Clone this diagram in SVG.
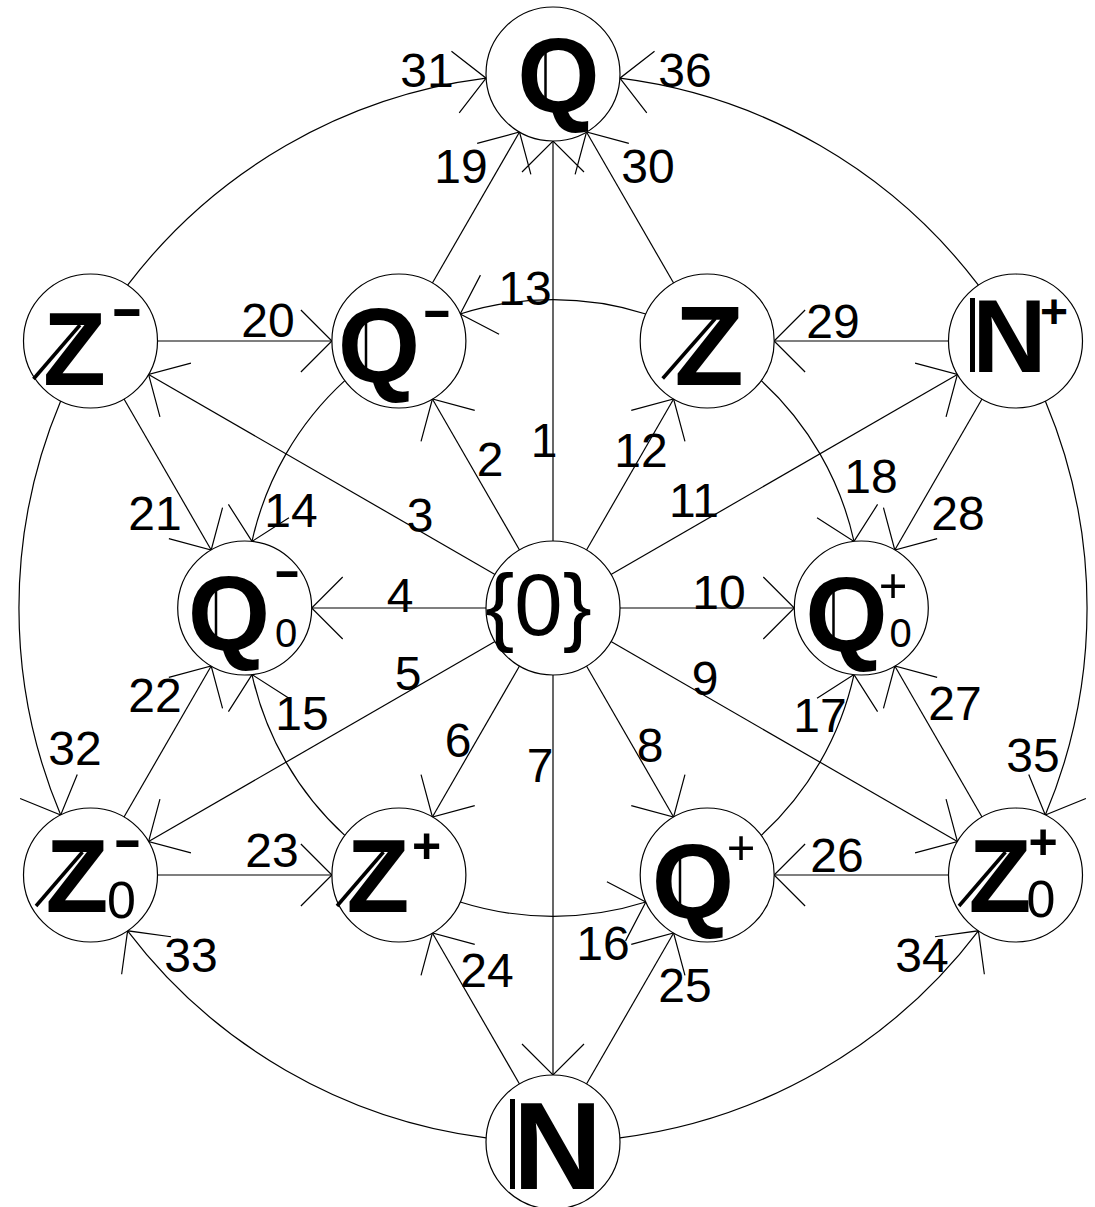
<svg xmlns="http://www.w3.org/2000/svg" width="1095" height="1207" viewBox="0 0 1095 1207">
<style>
.n{fill:#fff;stroke:#000;stroke-width:1.2}
.e{fill:none;stroke:#000;stroke-width:1.2;marker-end:url(#ah)}
.l{font-family:'Liberation Sans',Arial,sans-serif;font-size:48px;fill:#000;text-anchor:middle}
.r{font-family:'Liberation Sans',Arial,sans-serif;fill:#000;text-anchor:middle}
.b{font-family:'Liberation Sans',Arial,sans-serif;font-weight:bold;fill:#000;text-anchor:middle}
.q{stroke:#000;stroke-width:2.5}
.z{stroke:#000;stroke-width:3.5}
.nb{stroke:#000;stroke-width:5}
</style>
<defs>
<marker id="ah" markerUnits="userSpaceOnUse" viewBox="-50 -50 100 100" markerWidth="100" markerHeight="100" refX="0" refY="0" orient="auto" overflow="visible">
<path d="M-31,-31 L0,0 L-31,31" fill="none" stroke="#000" stroke-width="1.2"/>
</marker>
</defs>
<g id="connectors">
<path class="e" d="M553,541 L553,141"/>
<path class="e" d="M519.5,550 L432.4,399"/>
<path class="e" d="M495,574.5 L148.6,374.5"/>
<path class="e" d="M486,608 L311.7,608"/>
<path class="e" d="M495,641.5 L148.6,841.5"/>
<path class="e" d="M519.5,666 L432.4,817"/>
<path class="e" d="M553,675 L553,1075"/>
<path class="e" d="M586.5,666 L673.6,817"/>
<path class="e" d="M611,641.5 L957.4,841.5"/>
<path class="e" d="M620,608 L794.3,608"/>
<path class="e" d="M611,574.5 L957.4,374.5"/>
<path class="e" d="M586.5,550 L673.6,399"/>
<path class="e" d="M645.8,314 A308.3,308.3 0 0 0 460.2,314"/>
<path class="e" d="M344.8,380.6 A308.3,308.3 0 0 0 252,541.4"/>
<path class="e" d="M344.8,835.4 A308.3,308.3 0 0 1 252,674.6"/>
<path class="e" d="M460.2,902 A308.3,308.3 0 0 0 645.8,902"/>
<path class="e" d="M761.2,835.4 A308.3,308.3 0 0 0 854,674.6"/>
<path class="e" d="M761.2,380.6 A308.3,308.3 0 0 1 854,541.4"/>
<path class="e" d="M432.4,283 L519.5,132"/>
<path class="e" d="M157.5,341 L331.9,341"/>
<path class="e" d="M124,399 L211.2,550"/>
<path class="e" d="M124,817 L211.2,666"/>
<path class="e" d="M157.5,875 L331.9,875"/>
<path class="e" d="M519.5,1084 L432.4,933"/>
<path class="e" d="M586.5,1084 L673.6,933"/>
<path class="e" d="M948.5,875 L774.1,875"/>
<path class="e" d="M982,817 L894.8,666"/>
<path class="e" d="M982,399 L894.8,550"/>
<path class="e" d="M948.5,341 L774.1,341"/>
<path class="e" d="M673.6,283 L586.5,132"/>
<path class="e" d="M127.6,285.2 A534,534 0 0 1 486.1,78.2"/>
<path class="e" d="M60.7,401 A534,534 0 0 0 60.7,815"/>
<path class="e" d="M486.1,1137.8 A534,534 0 0 1 127.6,930.8"/>
<path class="e" d="M619.9,1137.8 A534,534 0 0 0 978.4,930.8"/>
<path class="e" d="M1045.3,401 A534,534 0 0 1 1045.3,815"/>
<path class="e" d="M978.4,285.2 A534,534 0 0 0 619.9,78.2"/>
</g>
<g id="labels">
<text class="l" x="544" y="457">1</text>
<text class="l" x="490" y="476">2</text>
<text class="l" x="420" y="532">3</text>
<text class="l" x="400" y="612">4</text>
<text class="l" x="408" y="690">5</text>
<text class="l" x="458" y="757">6</text>
<text class="l" x="540" y="782">7</text>
<text class="l" x="650" y="762">8</text>
<text class="l" x="705" y="695">9</text>
<text class="l" x="719" y="609">10</text>
<text class="l" x="694" y="517">11</text>
<text class="l" x="641" y="467">12</text>
<text class="l" x="525" y="305">13</text>
<text class="l" x="291" y="527">14</text>
<text class="l" x="302" y="730">15</text>
<text class="l" x="603" y="960">16</text>
<text class="l" x="820" y="732">17</text>
<text class="l" x="871" y="493">18</text>
<text class="l" x="461" y="183">19</text>
<text class="l" x="268" y="337">20</text>
<text class="l" x="155" y="530">21</text>
<text class="l" x="155" y="712">22</text>
<text class="l" x="272" y="867">23</text>
<text class="l" x="487" y="987">24</text>
<text class="l" x="685" y="1002">25</text>
<text class="l" x="837" y="872">26</text>
<text class="l" x="955" y="720">27</text>
<text class="l" x="958" y="530">28</text>
<text class="l" x="833" y="338">29</text>
<text class="l" x="648" y="183">30</text>
<text class="l" x="427" y="87">31</text>
<text class="l" x="75" y="765">32</text>
<text class="l" x="191" y="972">33</text>
<text class="l" x="922" y="972">34</text>
<text class="l" x="1033" y="772">35</text>
<text class="l" x="685" y="87">36</text>
</g>
<g id="node-Q">
<circle class="n" cx="553" cy="74" r="67"/>
<text class="b" x="558.5" y="112" font-size="106">Q</text>
<line class="q" x1="545.5" y1="47" x2="545.5" y2="106"/>
</g>
<g id="node-Qminus">
<circle class="n" cx="398.9" cy="341" r="67"/>
<text class="b" x="379" y="382" font-size="106">Q</text>
<line class="q" x1="366" y1="317" x2="366" y2="376"/>
<text class="b" transform="translate(437,326.5) scale(1.75,1)" font-size="52">-</text>
</g>
<g id="node-Z">
<circle class="n" cx="707.2" cy="341" r="67"/>
<text class="b" x="709" y="385" font-size="114">Z</text>
<line class="z" x1="715.3" y1="318.5" x2="662.7" y2="378.5"/>
</g>
<g id="node-Nplus">
<circle class="n" cx="1015.5" cy="341" r="67"/>
<text class="b" x="1009.5" y="372" font-size="103">N</text>
<line class="nb" x1="972.5" y1="298" x2="972.5" y2="372"/>
<text class="b" x="1054" y="328" font-size="48">+</text>
</g>
<g id="node-Zminus">
<circle class="n" cx="90.5" cy="341" r="67"/>
<text class="b" x="74.5" y="385" font-size="103">Z</text>
<line class="z" x1="80" y1="325" x2="33.5" y2="379"/>
<text class="b" transform="translate(127,328) scale(1.7,1)" font-size="58">-</text>
</g>
<g id="node-Q0minus">
<circle class="n" cx="244.7" cy="608" r="67"/>
<text class="b" x="229" y="650" font-size="106">Q</text>
<line class="q" x1="216" y1="585" x2="216" y2="644"/>
<text class="b" transform="translate(287,586.5) scale(1.7,1)" font-size="48">-</text>
<text class="r" x="286" y="647" font-size="40">0</text>
</g>
<g id="node-zero">
<circle class="n" cx="553" cy="608" r="67"/>
<text class="r" x="538.5" y="635" font-size="87">{0}</text>
</g>
<g id="node-Q0plus">
<circle class="n" cx="861.3" cy="608" r="67"/>
<text class="b" x="846.5" y="651" font-size="106">Q</text>
<line class="q" x1="833.5" y1="586" x2="833.5" y2="645"/>
<text class="r" x="893" y="602" font-size="49">+</text>
<text class="r" x="900.5" y="647" font-size="40">0</text>
</g>
<g id="node-Z0minus">
<circle class="n" cx="90.5" cy="875" r="67"/>
<text class="b" x="77" y="912" font-size="103">Z</text>
<line class="z" x1="82.5" y1="852" x2="36" y2="906"/>
<text class="b" transform="translate(127.5,857.5) scale(1.55,1)" font-size="56">-</text>
<text class="r" x="121.5" y="918" font-size="52">0</text>
</g>
<g id="node-Zplus">
<circle class="n" cx="398.9" cy="875" r="67"/>
<text class="b" x="378" y="912" font-size="103">Z</text>
<line class="z" x1="383.5" y1="852" x2="337" y2="906"/>
<text class="b" x="426.5" y="863" font-size="50">+</text>
</g>
<g id="node-Qplus">
<circle class="n" cx="707.2" cy="875" r="67"/>
<text class="b" x="693" y="918" font-size="106">Q</text>
<line class="q" x1="680" y1="853" x2="680" y2="912"/>
<text class="r" x="741" y="863.5" font-size="49">+</text>
</g>
<g id="node-Z0plus">
<circle class="n" cx="1015.5" cy="875" r="67"/>
<text class="b" x="1000" y="912" font-size="103">Z</text>
<line class="z" x1="1005.5" y1="852" x2="959" y2="906"/>
<text class="b" x="1043" y="859" font-size="50">+</text>
<text class="r" x="1041" y="917" font-size="52">0</text>
</g>
<g id="node-N">
<circle class="n" cx="553" cy="1142" r="67"/>
<text class="b" x="557.5" y="1189" font-size="124">N</text>
<line class="nb" x1="512.5" y1="1099" x2="512.5" y2="1189"/>
</g>
</svg>
